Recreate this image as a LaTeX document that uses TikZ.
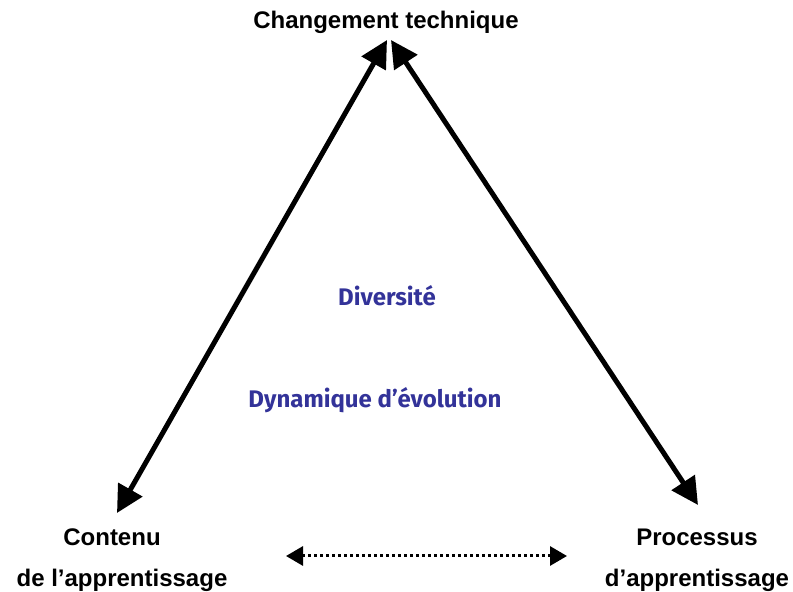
\documentclass[tikz,border=0pt]{standalone}
\usepackage{fontspec}
\setmainfont{Liberation Sans}
\newfontfamily\comicfont{Fira Sans}
\usetikzlibrary{arrows.meta}
\definecolor{bluetxt}{RGB}{51,51,153}
\begin{document}
\begin{tikzpicture}[x=1pt,y=1pt,
  lbl/.style={font=\bfseries\fontsize{24}{28}\selectfont, inner sep=0pt},
  blbl/.style={font=\comicfont\bfseries\fontsize{24}{28}\selectfont, text=bluetxt, inner sep=0pt},
  bigarrow/.style={line width=5pt, {Triangle[length=27pt,width=27pt]}-{Triangle[length=27pt,width=27pt]}},
  dotarrow/.style={line width=3pt, dash pattern=on 3pt off 3pt, {Triangle[length=17pt,width=19pt]}-{Triangle[length=17pt,width=19pt]}}]
\useasboundingbox (0,0) rectangle (793,592);
\node[lbl] (top) at (386,570) {Changement technique};
\node[lbl] (cont1) at (112,55) {Contenu};
\node[lbl] (cont2) at (122,12) {de l’apprentissage};
\node[lbl] (proc1) at (697,55) {Processus};
\node[lbl] (proc2) at (697,12) {d’apprentissage};
\node[blbl] (div) at (387,296) {Diversité};
\node[blbl] (dyn) at (375,192) {Dynamique d’évolution};
\coordinate (tl) at (387,552);
\coordinate (tr) at (391,552);
\coordinate (bl) at (117,79);
\coordinate (br) at (698,87);
\coordinate (dl) at (286,36);
\coordinate (dr) at (567,36);
\draw[bigarrow] (bl) -- (tl);
\draw[bigarrow] (br) -- (tr);
\draw[dotarrow] (dl) -- (dr);
\end{tikzpicture}
\end{document}
